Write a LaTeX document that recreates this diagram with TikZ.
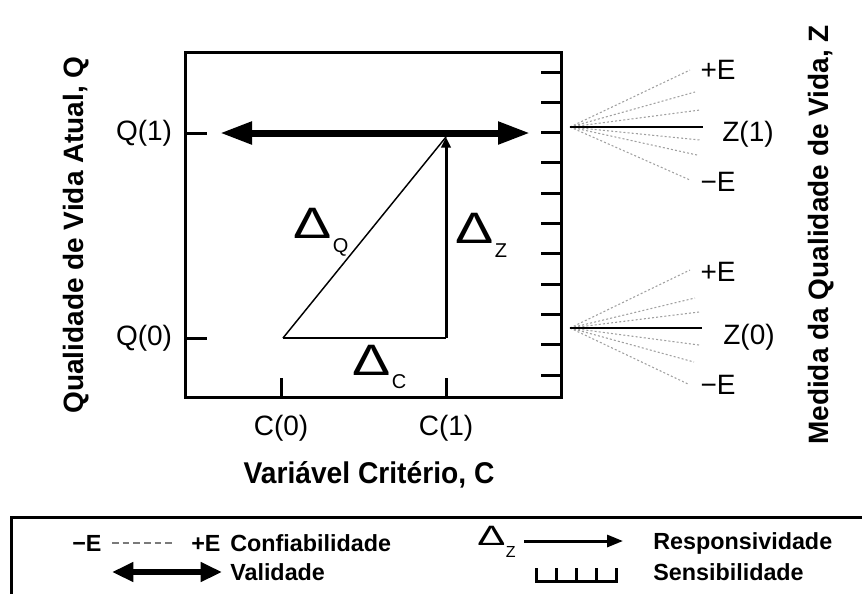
\documentclass[tikz,border=0pt]{standalone}
\usepackage{fontspec}
\setmainfont{Liberation Sans}
\usepackage{tikz}
\usetikzlibrary{arrows.meta,positioning,calc}
\definecolor{fangray}{HTML}{A0A0A0}
\definecolor{leggray}{HTML}{7A7A7A}

\newcommand{\cond}[2][0.94]{\scalebox{#1}[1]{#2}}
\newcommand{\deltalab}[2]{\scalebox{1.3}[1]{\fontsize{33}{33}\selectfont Δ}\hspace{1pt}\raisebox{-#2}{\fontsize{15}{15}\selectfont #1}}

\begin{document}
\begin{tikzpicture}[x=0.75pt, y=-0.75pt,
    axis/.style={draw=black, line width=2.25pt},
    tickmark/.style={draw=black, line width=2.25pt},
    valid/.style={draw=black, line width=5.25pt, {Triangle[length=24pt,width=16pt]}-{Triangle[length=24pt,width=16pt]}},
    resp/.style={draw=black, line width=2.25pt, -{Triangle[length=8pt,width=7pt]}},
    thinline/.style={draw=black, line width=1.1pt},
    fan/.style={draw=fangray, line width=0.8pt, dash pattern=on 1.5pt off 1.6pt},
    lbl/.style={font=\fontsize{21}{24}\selectfont, inner sep=0pt},
    axtitle/.style={font=\fontsize{21}{24}\selectfont\bfseries, inner sep=0pt, rotate=90},
    leg/.style={font=\fontsize{17.5}{20}\selectfont\bfseries, inner sep=0pt, anchor=west}
]
    \useasboundingbox (0,0) rectangle (862,594);

    % Plot box
    \draw[axis] (185,52) rectangle (561,397);

    % Ticks Q (left) and C (bottom)
    \draw[tickmark] (185,133) -- (207,133);
    \draw[tickmark] (185,338) -- (207,338);
    \draw[tickmark] (281,397) -- (281,378);
    \draw[tickmark] (446,397) -- (446,378);

    % Ticks Z (right)
    \foreach \k in {0,...,10}
        \draw[tickmark] (541,{72+30.3*\k}) -- (561,{72+30.3*\k});

    % Axis labels
    \node[lbl] (q1) at (144,133) {Q(1)};
    \node[lbl] (q0) at (144,338) {Q(0)};
    \node[lbl] (c0) at (281,428) {C(0)};
    \node[lbl] (c1) at (446,428) {C(1)};
    \node[lbl, font=\fontsize{22.5}{26}\selectfont\bfseries] (ctitle) at (369,475) {\cond{Variável Critério, C}};
    \node[axtitle] (qtitle) at (76,235) {Qualidade de Vida Atual, Q};
    \node[axtitle] (ztitle) at (821,235) {Medida da Qualidade de Vida, Z};

    % Validity arrow
    \coordinate (valL) at (220,133);
    \coordinate (valR) at (530,133);
    \draw[valid] (valL) -- (valR);

    % Triangle
    \coordinate (p00) at (283,338);
    \coordinate (p10) at (446,338);
    \coordinate (p11) at (446,137);
    \draw[thinline] (p00) -- (p10);
    \draw[thinline] (p00) -- (p11);
    \draw[resp] (p10) -- (p11);

    \node[inner sep=0pt, anchor=base west] (dq) at (293,238) {\deltalab{Q}{10.5pt}};
    \node[inner sep=0pt, anchor=base west] (dz) at (455,243) {\deltalab{Z}{11pt}};
    \node[inner sep=0pt, anchor=base west] (dc) at (352,375) {\deltalab{C}{10pt}};

    % Reliability fan, Z(1)
    \coordinate (z1) at (570,127);
    \coordinate (z1end) at (703,127);
    \foreach \ey/\ex [count=\i] in {70/690, 92/695, 110/700, 140/700, 155/697, 180/690} {
        \coordinate (ea\i) at (\ex,\ey);
        \draw[fan] (z1) -- (ea\i);
    }
    \draw[thinline] (z1) -- (z1end);
    \node[lbl] (pe1) at (718,70) {+E};
    \node[lbl] (zl1) at (748,134) {Z(1)};
    \node[lbl] (me1) at (718,182) {−E};

    % Reliability fan, Z(0)
    \coordinate (z0) at (570,328);
    \coordinate (z0end) at (702,328);
    \foreach \ey/\ex [count=\i] in {270/690, 298/695, 312/699, 345/699, 362/694, 384/688} {
        \coordinate (eb\i) at (\ex,\ey);
        \draw[fan] (z0) -- (eb\i);
    }
    \draw[thinline] (z0) -- (z0end);
    \node[lbl] (pe0) at (718,272) {+E};
    \node[lbl] (zl0) at (749,337) {Z(0)};
    \node[lbl] (me0) at (718,385) {−E};

    % Legend
    \draw[line width=2.25pt] (862,517) -- (11,517) -- (11,594);

    \node[leg] (lme) at (72,543) {−E};
    \coordinate (dashL) at (112,543);
    \coordinate (dashR) at (172,543);
    \draw[draw=leggray, line width=1.5pt, dash pattern=on 5pt off 3pt] (dashL) -- (dashR);
    \node[leg] (lpe) at (191,543) {+E};
    \node[leg] (lconf) at (230,543) {Confiabilidade};

    \coordinate (lvalL) at (112,572);
    \coordinate (lvalR) at (222,572);
    \draw[draw=black, line width=5pt, {Triangle[length=16pt,width=14pt]}-{Triangle[length=16pt,width=14pt]}] (lvalL) -- (lvalR);
    \node[leg] (lval) at (230,572) {Validade};

    \node[inner sep=0pt, anchor=base west] (ldz) at (477,545) {\scalebox{1.5}[1]{\fontsize{21}{21}\selectfont Δ}\hspace{0.5pt}\raisebox{-9.5pt}{\fontsize{12}{12}\selectfont Z}};
    \coordinate (lrespL) at (524,541);
    \coordinate (lrespR) at (623,541);
    \draw[draw=black, line width=2.25pt, -{Triangle[length=12pt,width=9pt]}] (lrespL) -- (lrespR);
    \node[leg] (lresp) at (653,543) {Responsividade};

    \draw[line width=2.25pt] (536,568) -- (536,581) -- (616,581) -- (616,568);
    \foreach \tx in {556,576,596}
        \draw[line width=2.25pt] (\tx,581) -- (\tx,568);
    \node[leg] (lsens) at (653,572) {Sensibilidade};

\end{tikzpicture}
\end{document}
